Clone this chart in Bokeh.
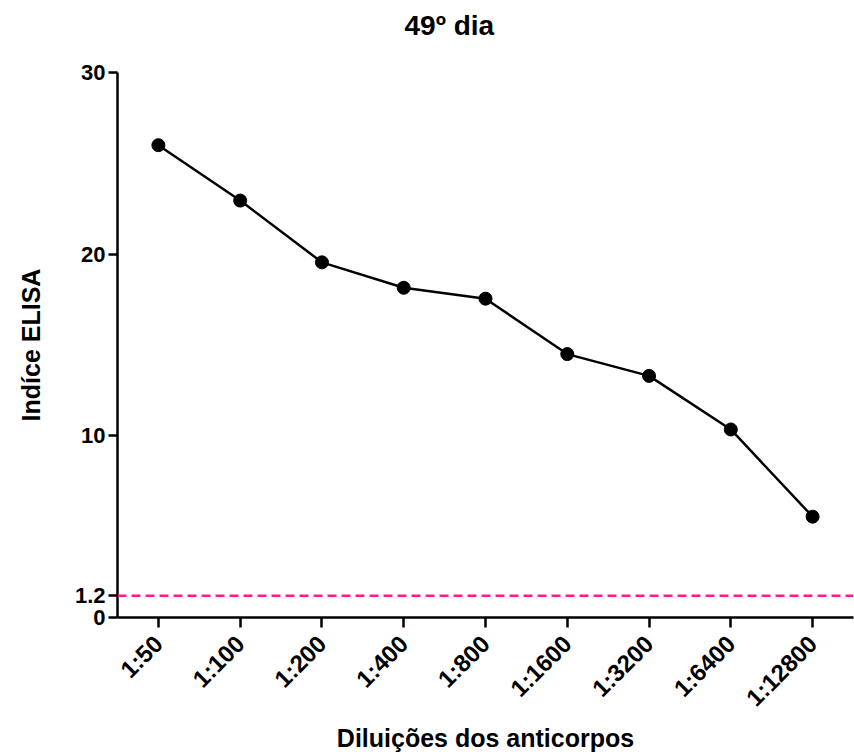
from bokeh.plotting import figure
from bokeh.models import FactorRange, Range1d, FixedTicker, Span, Title
from bokeh.embed import file_html
from bokeh.resources import INLINE

# Antibody dilutions and ELISA index measured on day 49
dilutions = ["1:50", "1:100", "1:200", "1:400", "1:800", "1:1600", "1:3200", "1:6400", "1:12800"]
elisa_index = [26.0, 22.95, 19.55, 18.15, 17.55, 14.5, 13.3, 10.35, 5.55]

# Positivity cut-off and y-axis ticks
cutoff = 1.2
y_ticks = [0, 1.2, 10, 20, 30]
y_tick_labels = {0: "0", 1.2: "1.2", 10: "10", 20: "20", 30: "30"}

chart_title = "49º dia"

FONT = "Liberation Sans"
INK = "black"

p = figure(
    width=854, height=755,
    x_range=FactorRange(factors=dilutions),
    y_range=Range1d(0, 30),
    output_backend="svg", toolbar_location=None,
    min_border_left=117, min_border_right=1,
    min_border_top=72, min_border_bottom=138,
)
p.title.visible = False

# blank strip between the frame and the title
p.add_layout(Title(text=" ", text_font_size="10px", standoff=16), "above")
# chart title, stacked above the blank strip
p.add_layout(Title(text=chart_title, text_font=FONT, text_font_size="28px",
                   text_font_style="bold", text_color=INK, align="left",
                   offset=287, vertical_align="middle", standoff=4), "above")

p.outline_line_color = None
p.xgrid.grid_line_color = None
p.ygrid.grid_line_color = None
p.background_fill_color = "white"
p.border_fill_color = "white"

# cut-off line
p.add_layout(Span(location=cutoff, dimension="width", line_color="#FF1A8C",
                  line_width=2.5, line_dash="9 5"))

p.line(dilutions, elisa_index, line_color="black", line_width=2.5)
p.scatter(dilutions, elisa_index, size=13, fill_color="black", line_color="black")

for ax in (p.xaxis[0], p.yaxis[0]):
    ax.axis_line_color = INK
    ax.major_tick_line_color = INK
    ax.axis_line_width = 2.5
    ax.major_tick_line_width = 2.5
    ax.major_tick_in = 0
    ax.minor_tick_line_color = None
    ax.major_label_text_font = FONT
    ax.major_label_text_font_style = "bold"
    ax.major_label_text_color = INK
    ax.axis_label_text_font = FONT
    ax.axis_label_text_font_size = "25px"
    ax.axis_label_text_font_style = "bold"
    ax.axis_label_text_color = INK

# y axis
ya = p.yaxis[0]
ya.ticker = FixedTicker(ticks=y_ticks)
ya.major_label_overrides = y_tick_labels
ya.major_tick_out = 9
ya.major_label_standoff = 3
ya.major_label_text_font_size = "22px"
ya.axis_label = "Indíce ELISA"
ya.axis_label_standoff = 27

# x axis
xa = p.xaxis[0]
xa.major_tick_out = 10
xa.major_label_standoff = 12
xa.major_label_orientation = 0.785398
xa.major_label_text_font_size = "24px"
xa.axis_label = "Diluições dos anticorpos"
xa.axis_label_standoff = 0

open("out.html", "w").write(file_html(p, INLINE))
